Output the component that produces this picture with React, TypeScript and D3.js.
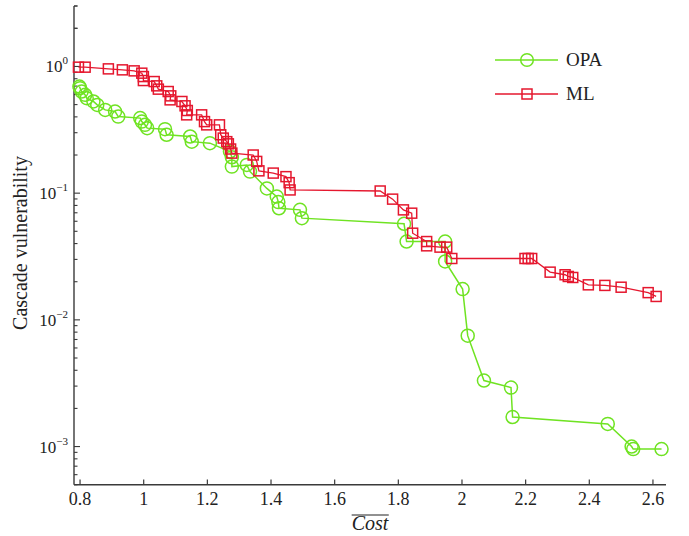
import React, { useEffect, useRef } from "react";
import * as d3 from "d3";

const opaCost = [0.798, 0.800, 0.805, 0.816, 0.821, 0.842, 0.854, 0.879, 0.910, 0.920, 0.989, 0.994, 1.004, 1.011, 1.067, 1.072, 1.146, 1.151, 1.208, 1.271, 1.277, 1.277, 1.324, 1.334, 1.387, 1.418, 1.423, 1.425, 1.491, 1.497, 1.818, 1.826, 1.947, 1.947, 2.002, 2.018, 2.069, 2.154, 2.159, 2.458, 2.533, 2.538, 2.627];
const opaVuln = [0.694, 0.674, 0.634, 0.597, 0.562, 0.529, 0.497, 0.454, 0.441, 0.402, 0.391, 0.367, 0.346, 0.326, 0.320, 0.289, 0.280, 0.255, 0.248, 0.213, 0.192, 0.162, 0.167, 0.148, 0.109, 0.094, 0.085, 0.076, 0.0738, 0.0635, 0.0573, 0.0415, 0.0415, 0.0289, 0.0175, 0.0075, 0.00332, 0.00292, 0.00171, 0.00151, 0.00100, 0.000955, 0.000955];

const mlCost = [0.795, 0.816, 0.889, 0.933, 0.970, 0.994, 0.999, 0.999, 1.033, 1.041, 1.046, 1.077, 1.085, 1.083, 1.120, 1.130, 1.137, 1.135, 1.182, 1.191, 1.198, 1.238, 1.242, 1.250, 1.261, 1.266, 1.273, 1.277, 1.344, 1.355, 1.362, 1.407, 1.447, 1.457, 1.460, 1.743, 1.782, 1.816, 1.842, 1.845, 1.889, 1.889, 1.931, 1.952, 1.968, 2.198, 2.208, 2.219, 2.277, 2.324, 2.334, 2.348, 2.397, 2.449, 2.500, 2.585, 2.610];
const mlVuln = [0.987, 0.987, 0.957, 0.940, 0.923, 0.885, 0.832, 0.774, 0.760, 0.703, 0.662, 0.634, 0.586, 0.545, 0.529, 0.489, 0.449, 0.415, 0.415, 0.367, 0.346, 0.346, 0.289, 0.272, 0.255, 0.245, 0.223, 0.207, 0.200, 0.178, 0.150, 0.144, 0.135, 0.121, 0.106, 0.104, 0.0897, 0.0738, 0.0695, 0.0483, 0.0415, 0.0384, 0.0375, 0.0375, 0.0305, 0.0305, 0.0305, 0.0305, 0.0238, 0.0227, 0.0220, 0.0216, 0.0189, 0.0187, 0.0181, 0.0164, 0.0153];

const xTicks = [0.8, 1, 1.2, 1.4, 1.6, 1.8, 2, 2.2, 2.4, 2.6];
const xTickLabels = ["0.8", "1", "1.2", "1.4", "1.6", "1.8", "2", "2.2", "2.4", "2.6"];
const yDecades = [0, -1, -2, -3];
const yExpLabels = ["0", "\u22121", "\u22122", "\u22123"];
const seriesNames = ["OPA", "ML"];

const GREEN = "#6fe322";
const RED = "#e5172e";
const AXIS = "#3a3a3a";
const FONT = "'Liberation Serif', 'Times New Roman', serif";

export default function App() {
  const ref = useRef<SVGSVGElement>(null);

  useEffect(() => {
    const svg = d3.select(ref.current);
    svg.selectAll("*").remove();

    const x = d3.scaleLinear().domain([0.781, 2.641]).range([74, 666]);
    const y = d3.scaleLog().domain([5e-4, 3]).range([484.7, 6]);

    const g = svg.append("g").style("font-family", FONT);

    g.append("line").attr("x1", 74).attr("x2", 74).attr("y1", y(3)).attr("y2", y(5e-4))
      .attr("stroke", AXIS).attr("stroke-width", 1.4);
    g.append("line").attr("x1", 74).attr("x2", 666).attr("y1", 484.7).attr("y2", 484.7)
      .attr("stroke", AXIS).attr("stroke-width", 1.4);

    xTicks.forEach((t, i) => {
      g.append("line").attr("x1", x(t)).attr("x2", x(t)).attr("y1", 484.7).attr("y2", 479.5)
        .attr("stroke", AXIS).attr("stroke-width", 1.2);
      g.append("text").attr("x", x(t)).attr("y", 505).attr("text-anchor", "middle")
        .style("font-family", FONT).attr("font-size", 18).attr("fill", "#222").text(xTickLabels[i]);
    });

    const minor: number[] = [];
    for (let e = -4; e <= 0; e++) {
      for (let m = 1; m <= 9; m++) {
        const v = m * Math.pow(10, e);
        if (v >= 5e-4 && v <= 3.0001) minor.push(v);
      }
    }
    minor.push(2, 3);
    minor.forEach((v) => {
      const major = Math.abs(Math.log10(v) - Math.round(Math.log10(v))) < 1e-9;
      g.append("line").attr("x1", 74).attr("x2", 74 + (major ? 6 : 3.5)).attr("y1", y(v)).attr("y2", y(v))
        .attr("stroke", AXIS).attr("stroke-width", 1.1);
    });
    yDecades.forEach((e, i) => {
      const t = g.append("text").attr("x", 68).attr("y", y(Math.pow(10, e)) + 6).attr("text-anchor", "end")
        .style("font-family", FONT).attr("font-size", 17).attr("fill", "#222");
      t.append("tspan").text("10");
      t.append("tspan").attr("font-size", 11).attr("dy", -8).text(yExpLabels[i]);
    });

    g.append("text").attr("transform", "translate(27,243) rotate(-90)").attr("text-anchor", "middle")
      .style("font-family", FONT).attr("font-size", 20).attr("fill", "#222").text("Cascade vulnerability");
    const cost = g.append("text").attr("x", 370).attr("y", 530).attr("text-anchor", "middle")
      .style("font-family", FONT).attr("font-style", "italic").attr("font-size", 20).attr("fill", "#222").text("Cost");
    const bb = (cost.node() as SVGTextElement).getBBox();
    g.append("line").attr("x1", bb.x).attr("x2", bb.x + bb.width).attr("y1", 515).attr("y2", 515)
      .attr("stroke", "#222").attr("stroke-width", 1);

    const line = d3.line<[number, number]>().x((d) => x(d[0])).y((d) => y(d[1]));
    const opa: [number, number][] = opaCost.map((c, i) => [c, opaVuln[i]]);
    const ml: [number, number][] = mlCost.map((c, i) => [c, mlVuln[i]]);

    g.append("path").attr("d", line(opa)).attr("fill", "none").attr("stroke", GREEN).attr("stroke-width", 1.5);
    g.selectAll(".opa").data(opa).enter().append("circle")
      .attr("cx", (d) => x(d[0])).attr("cy", (d) => y(d[1])).attr("r", 6.5)
      .attr("fill", "none").attr("stroke", GREEN).attr("stroke-width", 1.5);

    g.append("path").attr("d", line(ml)).attr("fill", "none").attr("stroke", RED).attr("stroke-width", 1.3);
    g.selectAll(".ml").data(ml).enter().append("rect")
      .attr("x", (d) => x(d[0]) - 5).attr("y", (d) => y(d[1]) - 5).attr("width", 10).attr("height", 10)
      .attr("fill", "none").attr("stroke", RED).attr("stroke-width", 1.5);

    const leg = [
      { name: seriesNames[0], color: GREEN, yy: 60, shape: "circle" },
      { name: seriesNames[1], color: RED, yy: 94, shape: "rect" },
    ];
    leg.forEach((l) => {
      g.append("line").attr("x1", 495).attr("x2", 558).attr("y1", l.yy).attr("y2", l.yy)
        .attr("stroke", l.color).attr("stroke-width", 1.5);
      if (l.shape === "circle") {
        g.append("circle").attr("cx", 527).attr("cy", l.yy).attr("r", 6.3)
          .attr("fill", "none").attr("stroke", l.color).attr("stroke-width", 1.5);
      } else {
        g.append("rect").attr("x", 522).attr("y", l.yy - 5).attr("width", 10).attr("height", 10)
          .attr("fill", "none").attr("stroke", l.color).attr("stroke-width", 1.5);
      }
      g.append("text").attr("x", 566).attr("y", l.yy + 6).style("font-family", FONT)
        .attr("font-size", 19).attr("fill", "#222").text(l.name);
    });
  }, []);

  return (
    <svg ref={ref} width={689} height={536}
      style={{ position: "absolute", left: 0, top: 0, background: "#fff" }} />
  );
}
